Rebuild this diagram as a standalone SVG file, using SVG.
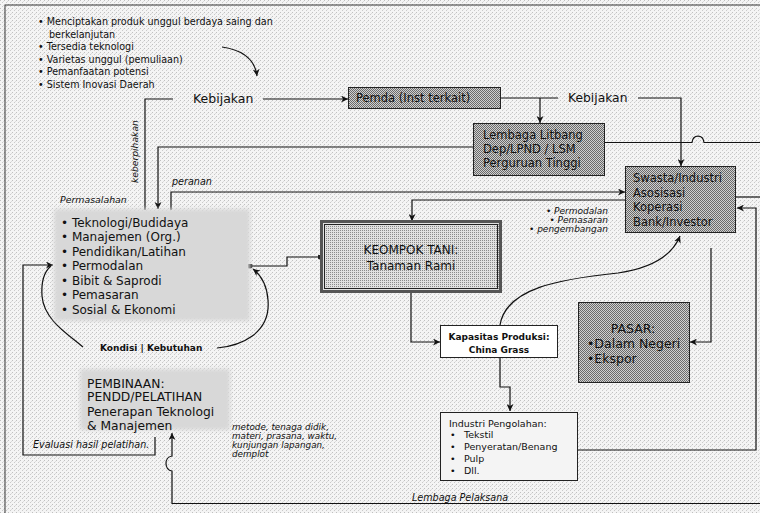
<svg xmlns="http://www.w3.org/2000/svg" width="760" height="513" viewBox="0 0 760 513">
<defs>
<pattern id="bg" width="4" height="4" patternUnits="userSpaceOnUse">
<rect width="4" height="4" fill="#f4f4f4"/>
<rect x="0" y="0" width="1" height="1" fill="#c0c0c0"/>
<rect x="2" y="2" width="1" height="1" fill="#cacaca"/>
<rect x="3" y="1" width="1" height="1" fill="#dcdcdc"/>
</pattern>
<pattern id="dark" width="2" height="2" patternUnits="userSpaceOnUse">
<rect width="2" height="2" fill="#d0d0d0"/>
<rect x="0" y="0" width="1" height="1" fill="#6a6a6a"/>
<rect x="1" y="1" width="1" height="1" fill="#6a6a6a"/>
</pattern>
<pattern id="mid" width="2" height="2" patternUnits="userSpaceOnUse">
<rect width="2" height="2" fill="#e0e0e0"/>
<rect x="0" y="0" width="1" height="1" fill="#8a8a8a"/>
</pattern>
<filter id="soft" x="-10%" y="-10%" width="120%" height="120%">
<feGaussianBlur stdDeviation="2"/>
</filter>
<marker id="ar" viewBox="0 0 10 10" refX="10" refY="5" markerWidth="7" markerHeight="7" markerUnits="userSpaceOnUse" orient="auto">
<path d="M0,0 L10,5 L0,10 L3,5 z" fill="#111"/>
</marker>
<marker id="dot" viewBox="0 0 6 6" refX="3" refY="3" markerWidth="5" markerHeight="5" markerUnits="userSpaceOnUse">
<circle cx="3" cy="3" r="3" fill="#222"/>
</marker>
<style>
text{font-family:"DejaVu Sans","Liberation Sans",sans-serif;fill:#111}
.it{font-style:italic}
.c{fill:none;stroke:#111;stroke-width:1.2}
.box{stroke:#222;stroke-width:1}
</style>
</defs>
<rect width="760" height="513" fill="url(#bg)"/>
<path d="M760,5 H5 V513" fill="none" stroke="#333" stroke-width="1"/>

<g id="goals" font-size="9.6">
<text x="38" y="25">• Menciptakan produk unggul berdaya saing dan</text>
<text x="49" y="37.5">berkelanjutan</text>
<text x="38" y="50">• Tersedia teknologi</text>
<text x="38" y="62.5">• Varietas unggul (pemuliaan)</text>
<text x="38" y="75">• Pemanfaatan potensi</text>
<text x="38" y="87.5">• Sistem Inovasi Daerah</text>
</g>

<g id="connectors">
<path class="c" d="M222,47 C243,50 255,60 257,76" marker-end="url(#ar)"/>
<path class="c" d="M173,99 H145 V210"/>
<path class="c" d="M263,99 H348" marker-end="url(#ar)"/>
<path class="c" d="M501,98 H558"/>
<path class="c" d="M638,98 H681 V166" marker-end="url(#ar)"/>
<path class="c" d="M540,98 V123" marker-end="url(#ar)"/>
<path class="c" d="M473,147 H158 V209" marker-end="url(#ar)"/>
<path class="c" d="M605,142.5 H692 C693,134 703,134 704,142.5 H760"/>
<path class="c" d="M171,210 V192 H625" marker-end="url(#ar)"/>
<path class="c" d="M625,200 H412 V221" marker-end="url(#ar)"/>
<path class="c" d="M736,197 H760"/>
<path class="c" d="M578,450 H756 V208 H737" marker-end="url(#ar)"/>
<path class="c" d="M711,248 V342 H690" marker-end="url(#ar)"/>
<path class="c" d="M411,291 V342 H440" marker-end="url(#ar)"/>
<path class="c" d="M500,325 C506,288 560,279 618,273 C652,268 672,256 680,236" marker-end="url(#ar)"/>
<path class="c" d="M500,358 V387 H510 V411" marker-end="url(#ar)"/>
<path class="c" d="M320,257 H287 V266 H250" marker-start="url(#dot)" marker-end="url(#dot)"/>
<path class="c" d="M83,347 C68,334 44,320 42,296 C41,281 45,271 51,266"/>
<path class="c" d="M217,348 C240,346 271,334 268,300 C267,286 262,276 253,269" marker-end="url(#ar)"/>
<path class="c" d="M155,437 V455 H23 V265 H53" marker-end="url(#ar)"/>
<path class="c" d="M760,503.5 H172 V471 C164,470 164,457 172,456 V433" marker-end="url(#ar)"/>
</g>

<g id="kebijakan-left">
<text x="193" y="102.5" font-size="12.5">Kebijakan</text>
</g>
<g id="kebijakan-right">
<text x="568" y="102" font-size="12.3">Kebijakan</text>
</g>
<g id="keberpihakan">
<text class="it" font-size="9.2" transform="translate(138,183) rotate(-90)">keberpihakan</text>
</g>

<g id="pemda">
<rect class="box" x="348.5" y="87.5" width="152" height="21" fill="url(#dark)"/>
<text x="356" y="102" font-size="11.5">Pemda (Inst terkait)</text>
</g>

<g id="lembaga">
<rect class="box" x="473.5" y="123.5" width="131" height="52" fill="url(#dark)"/>
<text x="483" font-size="11.5"><tspan x="483" y="139">Lembaga Litbang</tspan><tspan x="483" y="153">Dep/LPND / LSM</tspan><tspan x="483" y="167">Perguruan Tinggi</tspan></text>
</g>

<g id="swasta">
<rect class="box" x="625.5" y="166.5" width="110" height="66" fill="url(#dark)"/>
<text font-size="11.5"><tspan x="633" y="182">Swasta/Industri</tspan><tspan x="633" y="196.5">Asosisasi</tspan><tspan x="633" y="211">Koperasi</tspan><tspan x="633" y="225.5">Bank/Investor</tspan></text>
</g>

<g id="permasalahan">
<text class="it" x="60" y="203" font-size="9.4">Permasalahan</text>
<rect x="54" y="209" width="196" height="112" fill="#d8d8d8" filter="url(#soft)"/>
<text font-size="12"><tspan x="61" y="226.5">• Teknologi/Budidaya</tspan><tspan x="61" y="241">• Manajemen (Org.)</tspan><tspan x="61" y="255.5">• Pendidikan/Latihan</tspan><tspan x="61" y="270">• Permodalan</tspan><tspan x="61" y="284.5">• Bibit &amp; Saprodi</tspan><tspan x="61" y="299">• Pemasaran</tspan><tspan x="61" y="313.5">• Sosial &amp; Ekonomi</tspan></text>
</g>

<g id="peranan">
<text class="it" x="172" y="184.5" font-size="9.6">peranan</text>
</g>

<g id="dukungan">
<text class="it" font-size="9" text-anchor="end"><tspan x="608" y="214">• Permodalan</tspan><tspan x="608" y="223">• Pemasaran</tspan><tspan x="608" y="232">• pengembangan</tspan></text>
</g>

<g id="kelompok-tani">
<rect x="321.5" y="221.5" width="179" height="70" fill="url(#mid)" stroke="#555" stroke-width="3"/>
<rect x="324.5" y="224.5" width="173" height="64" fill="none" stroke="#222" stroke-width="1"/>
<text x="411" y="254" font-size="12" text-anchor="middle">KEOMPOK TANI:</text>
<text x="411" y="269.5" font-size="12" text-anchor="middle">Tanaman Rami</text>
</g>

<g id="kapasitas">
<rect class="box" x="440.5" y="325.5" width="117" height="32" fill="#fff"/>
<text x="499" y="340" font-size="9" font-weight="bold" text-anchor="middle">Kapasitas Produksi:</text>
<text x="499" y="353" font-size="9" font-weight="bold" text-anchor="middle">China Grass</text>
</g>

<g id="pasar">
<rect class="box" x="578.5" y="302.5" width="111" height="80" fill="url(#dark)"/>
<text x="633" y="332.5" font-size="12.5" text-anchor="middle">PASAR:</text>
<text font-size="12.5"><tspan x="587" y="347.5">•Dalam Negeri</tspan><tspan x="587" y="362.5">•Ekspor</tspan></text>
</g>

<g id="industri">
<rect class="box" x="440.5" y="412.5" width="137" height="68" fill="#f4f4f4"/>
<text font-size="9.5"><tspan x="449" y="426.5">Industri Pengolahan:</tspan></text>
<text font-size="9.5"><tspan x="450" y="437.5">•</tspan><tspan x="464" y="437.5">Tekstil</tspan><tspan x="450" y="450">•</tspan><tspan x="464" y="450">Penyeratan/Benang</tspan><tspan x="450" y="462">•</tspan><tspan x="464" y="462">Pulp</tspan><tspan x="450" y="474">•</tspan><tspan x="464" y="474">Dll.</tspan></text>
</g>

<g id="kondisi">
<text x="100" y="350.5" font-size="9" font-weight="bold">Kondisi | Kebutuhan</text>
</g>

<g id="pembinaan">
<rect x="80" y="369" width="150" height="61" fill="#d8d8d8" filter="url(#soft)"/>
<text font-size="12.3"><tspan x="87" y="387.5">PEMBINAAN:</tspan><tspan x="87" y="401">PENDD/PELATIHAN</tspan><tspan x="87" y="415.5">Penerapan Teknologi</tspan><tspan x="87" y="430">&amp; Manajemen</tspan></text>
</g>

<g id="metode">
<text class="it" font-size="8.8"><tspan x="232" y="430">metode, tenaga didik,</tspan><tspan x="232" y="439">materi, prasana, waktu,</tspan><tspan x="232" y="448">kunjungan lapangan,</tspan><tspan x="232" y="457">demplot</tspan></text>
</g>

<g id="evaluasi">
<text class="it" x="33" y="448" font-size="9.6">Evaluasi hasil pelatihan.</text>
</g>

<g id="lembaga-pelaksana">
<text class="it" x="412" y="500.5" font-size="9.6">Lembaga Pelaksana</text>
</g>
</svg>
